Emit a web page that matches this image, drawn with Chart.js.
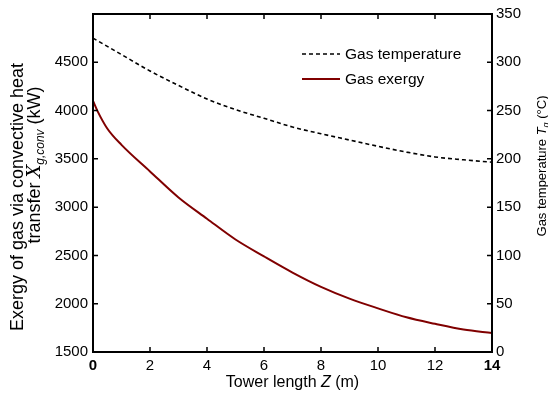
<!DOCTYPE html>
<html>
<head>
<meta charset="utf-8">
<script src="https://cdn.jsdelivr.net/npm/chart.js@4/dist/chart.umd.min.js"></script>
<style>
  body { margin: 0; background: #fff; }
  canvas { display: block; }
</style>
</head>
<body>
<canvas id="towerChart" width="548" height="397"></canvas>
<script>
// values
const exergyZ = [0, 0.15, 0.5, 1, 2, 3, 4, 5, 6, 7, 8, 9, 10, 11, 12, 13, 14];
const gasExergy = [4100, 4000, 3815, 3645, 3370, 3100, 2880, 2665, 2490, 2323, 2175, 2053, 1952, 1859, 1792, 1733, 1697];

const tempZ = [0, 1, 2, 3, 4, 5, 6, 7, 8, 9, 10, 11, 12, 13, 14];
const gasTemperature = [325, 308, 291, 276, 262, 251, 242, 233, 226, 219.5, 213, 207, 202, 199, 196.5];

const xTicks = [0, 2, 4, 6, 8, 10, 12, 14];
const exergyTicks = [1500, 2000, 2500, 3000, 3500, 4000, 4500];
const tempTicks = [0, 50, 100, 150, 200, 250, 300, 350];

const FONT = '"Liberation Sans", Arial, sans-serif';
const RED = 'rgb(128,0,0)';

function toPoints(xs, ys) {
    return xs.map((x, i) => ({ x: x, y: ys[i] }));
}

// draws a run of text pieces rotated -90deg, centred on (cx, cy)
function drawRotated(ctx, cx, cy, pieces) {
    ctx.save();
    ctx.translate(cx, cy);
    ctx.rotate(-Math.PI / 2);
    ctx.textBaseline = 'alphabetic';
    ctx.textAlign = 'left';
    let total = 0;
    pieces.forEach(p => { ctx.font = p.font; total += ctx.measureText(p.text).width; });
    let x = -total / 2;
    pieces.forEach(p => {
        ctx.font = p.font;
        ctx.fillText(p.text, x, p.dy || 0);
        x += ctx.measureText(p.text).width;
    });
    ctx.restore();
}

const framePlugin = {
    id: 'frame',
    afterDraw(chart) {
        const ctx = chart.ctx;
        const a = chart.chartArea;
        const sx = chart.scales.x, sl = chart.scales.yL, sr = chart.scales.yR;
        const tl = 5;
        ctx.save();
        ctx.strokeStyle = '#000';
        ctx.lineWidth = 1.5;
        ctx.beginPath();
        xTicks.forEach(v => {
            const px = sx.getPixelForValue(v);
            ctx.moveTo(px, a.bottom); ctx.lineTo(px, a.bottom - tl);
            ctx.moveTo(px, a.top); ctx.lineTo(px, a.top + tl);
        });
        exergyTicks.forEach(v => {
            const py = sl.getPixelForValue(v);
            ctx.moveTo(a.left, py); ctx.lineTo(a.left + tl, py);
        });
        tempTicks.forEach(v => {
            const py = sr.getPixelForValue(v);
            ctx.moveTo(a.right, py); ctx.lineTo(a.right - tl, py);
        });
        ctx.stroke();
        ctx.lineWidth = 2;
        ctx.strokeRect(a.left, a.top, a.right - a.left, a.bottom - a.top);

        // axis titles
        ctx.fillStyle = '#000';
        drawRotated(ctx, 23, 197, [{ text: 'Exergy of gas via convective heat', font: '18px ' + FONT }]);
        drawRotated(ctx, 40, 165, [
            { text: 'transfer ', font: '18px ' + FONT },
            { text: 'X', font: 'italic 18px "DejaVu Serif", serif' },
            { text: 'g,conv', font: 'italic 12px ' + FONT, dy: 4 },
            { text: ' (kW)', font: '18px ' + FONT }
        ]);
        drawRotated(ctx, 546, 166, [
            { text: 'Gas temperature ', font: '13px ' + FONT },
            { text: 'T', font: 'italic 13px ' + FONT },
            { text: 'g', font: 'italic 9px ' + FONT, dy: 3 },
            { text: ' (\u00B0C)', font: '13px ' + FONT }
        ]);
        ctx.textBaseline = 'middle';
        const xt = [
            { text: 'Tower length ', font: '16px ' + FONT },
            { text: 'Z', font: 'italic 16px ' + FONT },
            { text: ' (m)', font: '16px ' + FONT }
        ];
        let w = 0;
        xt.forEach(p => { ctx.font = p.font; w += ctx.measureText(p.text).width; });
        let x0 = (a.left + a.right) / 2 - w / 2;
        ctx.textAlign = 'left';
        xt.forEach(p => { ctx.font = p.font; ctx.fillText(p.text, x0, 383); x0 += ctx.measureText(p.text).width; });

        // legend
        const rows = [54, 79];
        chart.data.datasets.forEach((ds, i) => {
            const y = rows[i];
            ctx.strokeStyle = ds.borderColor;
            ctx.lineWidth = ds.borderWidth;
            ctx.setLineDash(ds.borderDash || []);
            ctx.beginPath();
            ctx.moveTo(302, y); ctx.lineTo(340, y);
            ctx.stroke();
            ctx.setLineDash([]);
            ctx.font = '15.5px ' + FONT;
            ctx.textBaseline = 'middle';
            ctx.fillText(ds.label, 345, y + 1);
        });
        ctx.restore();
    }
};

const chart = new Chart(document.getElementById('towerChart'), {
    type: 'line',
    data: {
        datasets: [{
            label: 'Gas temperature',
            data: toPoints(tempZ, gasTemperature),
            yAxisID: 'yR',
            borderColor: '#000',
            borderWidth: 1.6,
            borderDash: [4, 3],
            pointRadius: 0,
            cubicInterpolationMode: 'monotone'
        }, {
            label: 'Gas exergy',
            data: toPoints(exergyZ, gasExergy),
            yAxisID: 'yL',
            borderColor: RED,
            borderWidth: 2,
            pointRadius: 0,
            cubicInterpolationMode: 'monotone'
        }]
    },
    options: {
        responsive: false,
        animation: false,
        layout: { padding: { top: 13, left: 0, right: 0, bottom: 0 } },
        plugins: { legend: { display: false }, tooltip: { enabled: false } },
        scales: {
            x: {
                type: 'linear',
                min: 0, max: 14,
                grid: { display: false, drawTicks: false },
                border: { display: false },
                ticks: {
                    stepSize: 2, padding: 5, color: '#000', maxRotation: 0,
                    font: ctx => ({ family: FONT, size: 15, weight: (ctx.tick && (ctx.tick.value === 0 || ctx.tick.value === 14)) ? 'bold' : 'normal' })
                },
                afterFit: s => { s.height = 45; }
            },
            yL: {
                position: 'left',
                min: 1500, max: 5000,
                grid: { display: false, drawTicks: false },
                border: { display: false },
                ticks: {
                    stepSize: 500, padding: 5, color: '#000',
                    font: { family: FONT, size: 15 },
                    callback: v => (v === 5000 ? '' : v)
                },
                afterFit: s => { s.width = 93; }
            },
            yR: {
                position: 'right',
                min: 0, max: 350,
                grid: { display: false, drawTicks: false },
                border: { display: false },
                ticks: {
                    stepSize: 50, padding: 4, color: '#000',
                    font: { family: FONT, size: 15 }
                },
                afterFit: s => { s.width = 56; }
            }
        }
    },
    plugins: [framePlugin]
});
</script>
</body>
</html>
